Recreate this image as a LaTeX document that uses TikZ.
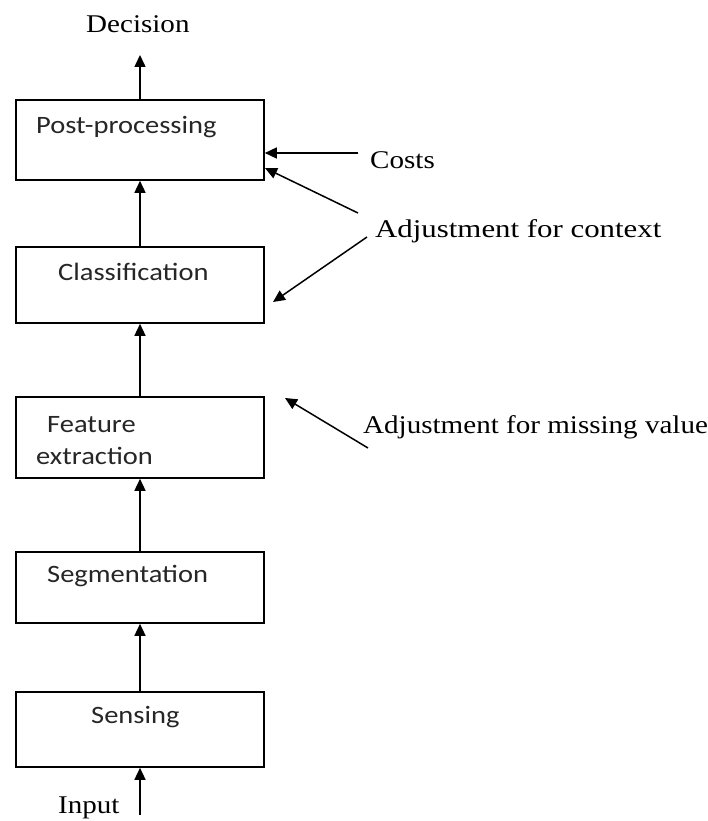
\documentclass[tikz,border=0pt]{standalone}
\usepackage{fontspec}
\setmainfont{Liberation Serif}
\newfontfamily\stagefont{Carlito}
\usetikzlibrary{arrows.meta}
% text in this figure is set slightly wider than its natural shape
\newcommand\widetext[2][1.14]{\scalebox{#1}[1]{#2}}

\begin{document}
\begin{tikzpicture}[x=1pt,y=-1pt,
  stage/.style={draw, line width=1.6pt, minimum width=248pt, inner sep=0pt},
  stagetext/.style={anchor=base west, inner sep=0pt, text=black!85,
    font=\stagefont\fontsize{25}{30}\selectfont},
  note/.style={anchor=base west, inner sep=0pt, text=black,
    font=\fontsize{25.5}{30}\selectfont},
  flow/.style={line width=1.5pt, -{Triangle[length=12pt,width=11pt]}}]

\useasboundingbox (0,0) rectangle (708,821);

% processing stages
\node[stage, minimum height=80pt] (post)  at (140,140)   {};
\node[stage, minimum height=76pt] (class) at (140,285)   {};
\node[stage, minimum height=81pt] (feat)  at (140,437.5) {};
\node[stage, minimum height=71pt] (seg)   at (140,587.5) {};
\node[stage, minimum height=75pt] (sense) at (140,729.5) {};

\node[stagetext] (postlbl)  at (36,134)  {\widetext{Post-processing}};
\node[stagetext] (classlbl) at (58,280)  {\widetext{Classification}};
\node[stagetext] (featlbl1) at (47,432)  {\widetext{Feature}};
\node[stagetext] (featlbl2) at (36,464)  {\widetext{extraction}};
\node[stagetext] (seglbl)   at (47,582)  {\widetext{Segmentation}};
\node[stagetext] (senselbl) at (91,723)  {\widetext{Sensing}};

% side notes
\node[note] (decision) at (86,33)   {\widetext{Decision}};
\node[note] (input)    at (58,813)  {\widetext{Input}};
\node[note] (costs)    at (370,168) {\widetext{Costs}};
\node[note] (context)  at (375,237) {\widetext[1.21]{Adjustment for context}};
\node[note] (missing)  at (363,433) {\widetext{Adjustment for missing value}};

% free ends of the connectors
\coordinate (dectip)   at (140,55);
\coordinate (inputend) at (140,815);
\coordinate (coststail) at (358,153);
\coordinate (ctxtail1) at (358,213);
\coordinate (ctxtip1)  at (265,168);
\coordinate (ctxtail2) at (367,237);
\coordinate (ctxtip2)  at (273,302);
\coordinate (mistail)  at (368,448);
\coordinate (mistip)   at (285,398);

% main flow
\draw[flow] (inputend) -- (sense.south);
\draw[flow] (sense.north) -- (seg.south);
\draw[flow] (seg.north) -- (feat.south);
\draw[flow] (feat.north) -- (class.south);
\draw[flow] (class.north) -- (post.south);
\draw[flow] (post.north) -- (dectip);

% adjustments
\draw[flow] (coststail) -- (coststail -| post.east);
\draw[flow] (ctxtail1) -- (ctxtip1);
\draw[flow] (ctxtail2) -- (ctxtip2);
\draw[flow] (mistail) -- (mistip);
\end{tikzpicture}
\end{document}
